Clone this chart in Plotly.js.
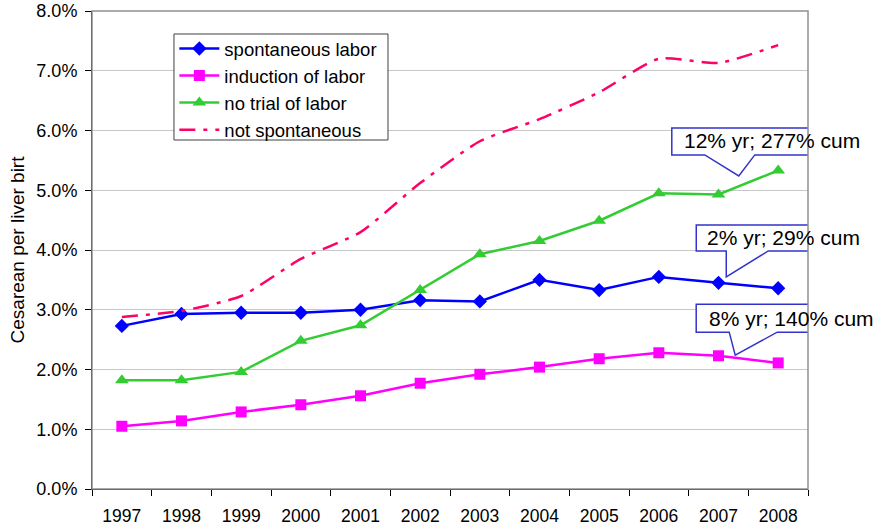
<!DOCTYPE html>
<html>
<head>
<meta charset="utf-8">
<script src="https://cdn.plot.ly/plotly-3.0.1.min.js"></script>
<style>html,body{margin:0;padding:0;background:#fff;}#chart{width:887px;height:529px;}</style>
</head>
<body>
<div id="chart"></div>
<script>
const years = ['1997','1998','1999','2000','2001','2002','2003','2004','2005','2006','2007','2008'];
const spontaneous = [2.73, 2.93, 2.95, 2.95, 3.00, 3.16, 3.14, 3.50, 3.33, 3.55, 3.45, 3.36];
const induction = [1.05, 1.14, 1.29, 1.41, 1.56, 1.77, 1.92, 2.04, 2.18, 2.28, 2.23, 2.11];
const noTrial = [1.82, 1.82, 1.96, 2.48, 2.74, 3.33, 3.93, 4.15, 4.49, 4.95, 4.93, 5.33];
const notSpontaneous = [2.88, 2.98, 3.23, 3.85, 4.30, 5.12, 5.82, 6.19, 6.64, 7.20, 7.13, 7.43];
const seriesNames = ['spontaneous labor','induction of labor','no trial of labor','not spontaneous'];
const notes = ['12% yr; 277% cum','2% yr; 29% cum','8% yr; 140% cum'];
// where each callout points: category position and value
const notePosX = [10.34, 10.13, 10.28];
const notePosY = [5.24, 3.55, 2.24];

const font = 'Arial, "Liberation Sans", sans-serif';
const traces = [
  {x: years, y: spontaneous, name: seriesNames[0], mode: 'lines+markers',
   line: {color: '#0000ff', width: 2.5}, marker: {symbol: 'diamond', size: 11, color: '#0000ff'}},
  {x: years, y: induction, name: seriesNames[1], mode: 'lines+markers',
   line: {color: '#ff00ff', width: 2.5}, marker: {symbol: 'square', size: 11, color: '#ff00ff'}},
  {x: years, y: noTrial, name: seriesNames[2], mode: 'lines+markers',
   line: {color: '#33cc33', width: 2.5}, marker: {symbol: 'triangle-up', size: 12, color: '#33cc33'}},
  {x: years, y: notSpontaneous, name: seriesNames[3], mode: 'lines',
   line: {color: '#ff0066', width: 2.5, dash: '16px,8px,4px,8px', shape: 'spline', smoothing: 0.6}}
];

// callout outlines, in pixels relative to the pointed-at spot (y up)
const calloutPaths = [
  'M -67,21 L -34,21 L 0,0 L 16,21 L 133,21 L 133,48 L -67,48 Z',
  'M -30,26 L 0,26 L 0,0 L 42,26 L 145,26 L 145,52 L -30,52 Z',
  'M -39,23 L -6,23 L 0,0 L 42,23 L 151,23 L 151,51 L -39,51 Z'
];
const textShift = [[33, 35], [57, 39], [56, 37]];

const shapes = [
  // legend frame
  {type: 'rect', xref: 'paper', yref: 'paper', x0: 0.1145, x1: 0.4134, y0: 0.7301, y1: 0.9519,
   fillcolor: '#ffffff', line: {color: '#404040', width: 1}, layer: 'above'}
];
const annotations = [];
for (let i = 0; i < notes.length; i++) {
  shapes.push({type: 'path', xref: 'x', yref: 'y', xsizemode: 'pixel', ysizemode: 'pixel',
    xanchor: notePosX[i], yanchor: notePosY[i], path: calloutPaths[i],
    fillcolor: '#ffffff', line: {color: '#3333cc', width: 1.5}, layer: 'above'});
  annotations.push({x: notePosX[i], y: notePosY[i], xref: 'x', yref: 'y', text: notes[i],
    showarrow: false, xshift: textShift[i][0], yshift: textShift[i][1],
    font: {family: font, size: 21, color: '#000'}});
}
shapes.push({type: 'rect', xref: 'paper', yref: 'paper', x0: 0, x1: 1, y0: 0, y1: 1,
  line: {color: '#909090', width: 1.5}, layer: 'above'});

const layout = {
  width: 887, height: 529,
  margin: {l: 92, r: 79, t: 11, b: 40},
  paper_bgcolor: '#fff', plot_bgcolor: '#fff',
  font: {family: font, size: 18, color: '#000'},
  showlegend: true,
  legend: {x: 0.115, y: 0.9603, xanchor: 'left', yanchor: 'top',
    borderwidth: 0, bgcolor: 'rgba(0,0,0,0)',
    font: {family: font, size: 18.5, color: '#000'}, tracegroupgap: 0, itemwidth: 40},
  xaxis: {type: 'category', range: [-0.5, 11.5], showline: true, linecolor: '#000', linewidth: 1,
    ticks: 'outside', ticklen: 6, tickcolor: '#000', tickson: 'boundaries', showgrid: false,
    ticklabelstandoff: 11,
    tickfont: {family: font, size: 17.5}, zeroline: false, fixedrange: true},
  yaxis: {range: [0, 8], dtick: 1, tickformat: '.1f', ticksuffix: '%', showline: true,
    linecolor: '#000', linewidth: 1, ticks: 'outside', ticklen: 6, tickcolor: '#000',
    ticklabelstandoff: 4,
    showgrid: true, gridcolor: '#c8c8c8', gridwidth: 1, zeroline: false,
    tickfont: {family: font, size: 18},
    title: {text: 'Cesarean per liver birt', font: {family: font, size: 19}, standoff: 6}},
  shapes: shapes,
  annotations: annotations
};

Plotly.newPlot('chart', traces, layout, {displayModeBar: false, staticPlot: true});
</script>
</body>
</html>
